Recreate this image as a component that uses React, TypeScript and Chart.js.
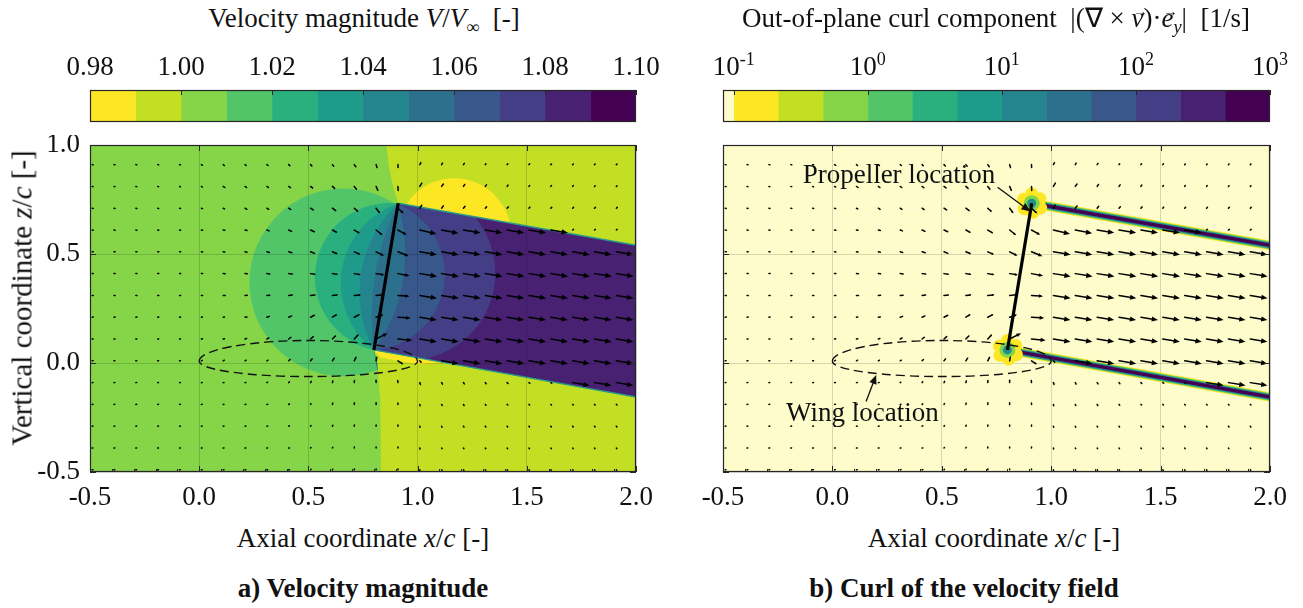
import React, { useEffect, useRef } from 'react';
import { Chart, registerables } from 'chart.js';

Chart.register(...registerables);

const SERIF = '"Liberation Serif", "Times New Roman", Times, serif';
const INK = '#262626';
const TEXT = '#111111';
const TEXT_PX = 27;

// Colour levels shared by both colour bars (viridis, low -> high)
const LEVEL_COLORS = ['#fde725', '#c2df23', '#86d549', '#52c569', '#2ab07f', '#1e9b8a', '#25858e', '#2d708e', '#38588c', '#433e85', '#482173', '#440154'];
const CURL_UNDER_COLOR = '#fdfcca';

// Colour bar a: V/V∞ levels
const VEL_EDGES = [0.98, 0.99, 1.0, 1.01, 1.02, 1.03, 1.04, 1.05, 1.06, 1.07, 1.08, 1.09, 1.1];
const VEL_TICKS = [0.98, 1.0, 1.02, 1.04, 1.06, 1.08, 1.1];
const VEL_TICK_TEXT = ['0.98', '1.00', '1.02', '1.04', '1.06', '1.08', '1.10'];

// Colour bar b: curl magnitude levels [1/s] (first band is below range)
const CURL_EDGES = [0.0832, 0.1, 0.215, 0.464, 1, 2.15, 4.64, 10, 21.5, 46.4, 100, 215, 464, 1000];
const CURL_TICKS = [0.1, 1, 10, 100, 1000];
const CURL_TICK_EXP = ['-1', '0', '1', '2', '3'];

// Plot axes
const X_TICKS = [-0.5, 0, 0.5, 1, 1.5, 2];
const X_MINOR = [-0.4, -0.3, -0.2, -0.1, 0.1, 0.2, 0.3, 0.4, 0.6, 0.7, 0.8, 0.9, 1.1, 1.2, 1.3, 1.4, 1.6, 1.7, 1.8, 1.9];
const Z_TICKS = [-0.5, 0, 0.5, 1];

// Propeller disk (lower tip, upper tip)
const PROP_X = [0.8, 0.911];
const PROP_Z = [0.06, 0.733];

// Slipstream edges, from the tips downstream
const SLIP_UPPER_X = [0.911, 2.1];
const SLIP_UPPER_Z = [0.733, 0.522];
const SLIP_LOWER_X = [0.8, 2.1];
const SLIP_LOWER_Z = [0.06, -0.174];

// Region upstream of the V/V∞ = 1.00 iso-line and the disk
const UPSTREAM_X = [-0.6, 0.853, 0.857, 0.87, 0.89, 0.911, 0.8, 0.815, 0.829, 0.833, -0.6];
const UPSTREAM_Z = [1.1, 1.1, 1.0, 0.89, 0.8, 0.733, 0.06, 0.0, -0.17, -0.6, -0.6];

// Iso-velocity discs ahead of the disk (level index, centre, radius)
const UP_LEVEL = [3, 4, 5, 6, 7];
const UP_CX = [0.66, 0.87, 1.032, 1.293, 1.97];
const UP_CZ = [0.37, 0.393, 0.366, 0.323, 0.212];
const UP_R = [0.43, 0.34, 0.384, 0.559, 1.18];

// Iso-velocity discs inside the slipstream
const DOWN_LEVEL = [9, 8, 7];
const DOWN_CX = [0.956, 0.775, 0.184];
const DOWN_CZ = [0.413, 0.408, 0.505];
const DOWN_R = [0.4, 0.349, 0.76];

// Low-speed pockets next to the slipstream
const LOW_CX = [1.168];
const LOW_CZ = [0.586];
const LOW_R = [0.261];
const LOW_SLIVER_X = [0.8, 1.12, 1.0, 0.83];
const LOW_SLIVER_Z = [0.06, 0.002, -0.006, 0.025];

// Wing section outline
const WING_X = [0.0, 1.0];
const WING_Z = [0.008];
const WING_THICK_UP = [0.095];
const WING_THICK_DOWN = [0.07];

// Tip vortex blobs in the curl field (petal offsets from each tip)
const PETAL_DX = [0.0, -0.037, -0.034, 0.006, 0.041, 0.038];
const PETAL_DZ = [0.043, 0.018, -0.025, -0.042, -0.022, 0.02];

// Annotations in panel b
const NOTE_TEXT = ['Propeller location', 'Wing location'];
const NOTE_X = [-0.136, -0.212];
const NOTE_Z = [0.824, -0.268];
const NOTE_FROM_X = [0.755, 0.154];
const NOTE_FROM_Z = [0.806, -0.177];
const NOTE_TO_X = [0.905, 0.2];
const NOTE_TO_Z = [0.695, -0.055];

// Quiver grid and perturbation velocity (units of 0.01 c per arrow)
const QX = [-0.49, -0.39, -0.29, -0.19, -0.09, 0.01, 0.11, 0.21, 0.31, 0.41, 0.51, 0.61, 0.71, 0.81, 0.91, 1.01, 1.11, 1.21, 1.31, 1.41, 1.51, 1.61, 1.71, 1.81, 1.91];
const QZ = [0.91, 0.81, 0.71, 0.61, 0.51, 0.41, 0.31, 0.21, 0.11, 0.01, -0.09, -0.19, -0.29, -0.39, -0.49];
const QU = [
  [0.4, 0.4, 0.4, 0.4, 0.4, 0.5, 0.5, 0.5, 0.5, 0.5, 0.6, 0.6, 0.7, 0.4, 0.05, 0.5, 0.4, 0.4, 0.3, 0.3, 0.3, 0.3, 0.3, 0.3, 0.3],
  [0.4, 0.4, 0.4, 0.4, 0.4, 0.5, 0.7, 0.7, 0.7, 0.8, 0.9, 1.0, 1.0, 0.8, 0.1, 0.9, 0.8, 0.6, 0.5, 0.4, 0.3, 0.3, 0.3, 0.3, 0.3],
  [0.45, 0.45, 0.45, 0.45, 0.45, 0.5, 0.6, 0.8, 0.8, 0.9, 1.2, 1.5, 1.8, 1.7, 2.6, 0.9, 0.8, 0.7, 0.6, 0.5, 0.4, 0.4, 0.4, 0.4, 0.4],
  [0.5, 0.5, 0.5, 0.5, 0.5, 0.6, 0.7, 0.9, 1.0, 1.3, 1.7, 2.2, 2.5, 3.0, 4.0, 7.6, 7.7, 7.8, 7.8, 7.8, 7.8, 7.8, 0.4, 0.4, 0.4],
  [0.5, 0.5, 0.5, 0.5, 0.5, 0.6, 0.7, 0.9, 1.1, 1.4, 1.8, 2.3, 2.8, 3.6, 5.0, 7.8, 7.8, 7.8, 7.8, 7.8, 7.8, 7.8, 7.8, 7.8, 7.8],
  [0.5, 0.5, 0.5, 0.5, 0.5, 0.6, 0.9, 1.0, 1.3, 1.6, 1.9, 2.4, 3.0, 3.8, 5.3, 7.9, 7.9, 7.9, 7.9, 7.9, 7.9, 7.9, 7.9, 7.9, 7.9],
  [0.5, 0.5, 0.5, 0.5, 0.5, 0.6, 0.9, 1.0, 1.3, 1.6, 2.0, 2.5, 3.1, 3.9, 5.3, 7.9, 7.9, 7.9, 7.9, 7.9, 7.9, 7.9, 7.9, 7.9, 7.9],
  [0.5, 0.5, 0.5, 0.5, 0.5, 0.5, 0.6, 0.9, 1.1, 1.3, 1.7, 2.1, 2.6, 3.4, 5.8, 7.8, 7.8, 7.8, 7.8, 7.8, 7.8, 7.8, 7.8, 7.8, 7.8],
  [0.45, 0.45, 0.45, 0.45, 0.45, 0.5, 0.6, 0.7, 0.9, 1.0, 1.2, 1.6, 2.0, 5.2, 6.5, 7.8, 7.8, 7.8, 7.8, 7.8, 7.8, 7.8, 7.8, 7.8, 7.8],
  [0.4, 0.4, 0.4, 0.4, 0.4, 0.4, 0.5, 0.5, 0.5, 0.6, 0.7, 0.8, 0.8, 0.3, 2.4, 0.6, 7.8, 7.8, 7.8, 7.8, 7.8, 7.8, 7.8, 7.8, 7.8],
  [0.35, 0.35, 0.35, 0.35, 0.35, 0.35, 0.35, 0.35, 0.3, 0.3, 0.3, 0.2, 0.1, 0.0, -0.1, 0.3, 0.4, 0.4, 0.4, 0.4, 0.4, 0.4, 7.8, 7.8, 7.8],
  [0.35, 0.35, 0.35, 0.35, 0.35, 0.35, 0.35, 0.35, 0.35, 0.3, 0.2, 0.15, 0.05, 0.0, 0.0, 0.15, 0.25, 0.3, 0.3, 0.3, 0.3, 0.3, 0.3, 0.3, 0.3],
  [0.35, 0.35, 0.35, 0.35, 0.35, 0.35, 0.35, 0.35, 0.35, 0.3, 0.2, 0.15, 0.05, 0.0, 0.0, 0.1, 0.2, 0.25, 0.25, 0.25, 0.25, 0.25, 0.25, 0.25, 0.25],
  [0.35, 0.35, 0.35, 0.35, 0.35, 0.35, 0.35, 0.35, 0.35, 0.35, 0.2, 0.15, 0.05, 0.0, 0.0, 0.1, 0.2, 0.2, 0.2, 0.2, 0.2, 0.2, 0.2, 0.2, 0.2],
  [0.35, 0.35, 0.35, 0.35, 0.35, 0.35, 0.35, 0.35, 0.35, 0.35, 0.2, 0.1, 0.05, 0.0, 0.0, 0.1, 0.2, 0.2, 0.2, 0.2, 0.2, 0.2, 0.2, 0.2, 0.2],
];
const QW = [
  [-0.1, -0.1, -0.1, -0.1, -0.1, -0.3, -0.4, -0.4, -0.4, -0.5, -0.6, -0.7, -1.0, -1.3, -1.3, 0.9, 0.7, 0.6, 0.4, 0.4, 0.4, 0.3, 0.3, 0.3, 0.3],
  [-0.1, -0.1, -0.1, -0.1, -0.2, -0.3, -0.5, -0.5, -0.5, -0.6, -0.7, -0.9, -1.3, -1.8, -1.9, 1.5, 1.1, 0.9, 0.7, 0.6, 0.4, 0.4, 0.4, 0.3, 0.3],
  [-0.1, -0.1, -0.1, -0.1, -0.1, -0.2, -0.3, -0.5, -0.5, -0.6, -0.8, -1.1, -1.6, -2.3, -2.4, 1.4, 1.1, 0.9, 0.7, 0.6, 0.5, 0.4, 0.4, 0.4, 0.4],
  [-0.05, -0.05, -0.05, -0.05, -0.05, -0.1, -0.1, -0.2, -0.4, -0.6, -0.8, -1.2, -1.5, -2.4, -2.2, -1.8, -1.5, -1.3, -1.3, -1.3, -1.3, -1.3, 0.3, 0.3, 0.3],
  [0, 0, 0, 0, 0, -0.05, -0.1, -0.15, -0.3, -0.45, -0.7, -0.9, -1.2, -1.8, -2.0, -1.3, -1.3, -1.3, -1.3, -1.3, -1.3, -1.3, -1.3, -1.3, -1.3],
  [0, 0, 0, 0, 0, 0, -0.05, -0.1, -0.15, -0.2, -0.3, -0.4, -0.5, -0.6, -1.0, -1.3, -1.3, -1.3, -1.3, -1.3, -1.3, -1.3, -1.3, -1.3, -1.3],
  [0, 0, 0, 0, 0, 0.02, 0, 0.05, 0.1, 0.15, 0.2, 0.3, 0.3, 0.4, -0.4, -1.3, -1.3, -1.3, -1.3, -1.3, -1.3, -1.3, -1.3, -1.3, -1.3],
  [0.05, 0.05, 0.05, 0.05, 0.05, 0.05, 0.1, 0.15, 0.4, 0.6, 0.9, 1.3, 1.4, 1.2, -0.4, -1.3, -1.3, -1.3, -1.3, -1.3, -1.3, -1.3, -1.3, -1.3, -1.3],
  [0.05, 0.05, 0.05, 0.05, 0.05, 0.1, 0.15, 0.2, 0.5, 0.8, 1.1, 1.6, 2.2, 2.6, -0.6, -1.3, -1.3, -1.3, -1.3, -1.3, -1.3, -1.3, -1.3, -1.3, -1.3],
  [0.05, 0.05, 0.05, 0.05, 0.05, 0.2, 0.3, 0.3, 0.3, 0.6, 0.9, 1.2, 1.6, 1.6, -1.6, -0.6, -1.3, -1.3, -1.3, -1.3, -1.3, -1.3, -1.3, -1.3, -1.3],
  [0.05, 0.05, 0.05, 0.05, 0.05, 0.05, 0.05, 0.05, 0.2, 0.4, 0.6, 0.8, 1.0, 1.1, 1.0, -0.8, -0.7, -0.6, -0.5, -0.4, -0.3, -0.3, -1.3, -1.3, -1.3],
  [0.05, 0.05, 0.05, 0.05, 0.05, 0.05, 0.05, 0.05, 0.05, 0.25, 0.4, 0.6, 0.8, 0.8, 0.7, -0.6, -0.5, -0.5, -0.4, -0.3, -0.3, -0.3, -0.3, -0.3, -0.3],
  [0.05, 0.05, 0.05, 0.05, 0.05, 0.05, 0.05, 0.05, 0.05, 0.2, 0.3, 0.45, 0.6, 0.6, 0.6, -0.5, -0.45, -0.35, -0.35, -0.35, -0.35, -0.35, -0.35, -0.35, -0.35],
  [0.05, 0.05, 0.05, 0.05, 0.05, 0.05, 0.05, 0.05, 0.05, 0.05, 0.25, 0.35, 0.5, 0.5, 0.5, -0.45, -0.3, -0.3, -0.3, -0.3, -0.3, -0.3, -0.3, -0.3, -0.3],
  [0.05, 0.05, 0.05, 0.05, 0.05, 0.05, 0.05, 0.05, 0.05, 0.05, 0.2, 0.3, 0.4, 0.4, 0.4, -0.4, -0.25, -0.25, -0.25, -0.25, -0.25, -0.25, -0.25, -0.25, -0.25],
];
const ARROW_UNIT = 0.01;

// ---------- drawing helpers (all positions go through the chart scales) ----------
const toPx = (chart: any, x: number, z: number): [number, number] => [
  chart.scales.x.getPixelForValue(x),
  chart.scales.y.getPixelForValue(z),
];
const unitPx = (chart: any) => chart.scales.x.getPixelForValue(1) - chart.scales.x.getPixelForValue(0);

function tracePolygon(ctx: CanvasRenderingContext2D, chart: any, xs: number[], zs: number[]) {
  ctx.beginPath();
  xs.forEach((x, i) => {
    const [px, py] = toPx(chart, x, zs[i]);
    if (i === 0) ctx.moveTo(px, py);
    else ctx.lineTo(px, py);
  });
  ctx.closePath();
}

function traceDisc(ctx: CanvasRenderingContext2D, chart: any, cx: number, cz: number, r: number) {
  const [px, py] = toPx(chart, cx, cz);
  ctx.beginPath();
  ctx.arc(px, py, r * unitPx(chart), 0, Math.PI * 2);
}

const SLIP_X = [SLIP_UPPER_X[0], SLIP_UPPER_X[1], SLIP_LOWER_X[1], SLIP_LOWER_X[0]];
const SLIP_Z = [SLIP_UPPER_Z[0], SLIP_UPPER_Z[1], SLIP_LOWER_Z[1], SLIP_LOWER_Z[0]];

function arrow(ctx: CanvasRenderingContext2D, x0: number, y0: number, x1: number, y1: number, maxHead = 7) {
  const dx = x1 - x0;
  const dy = y1 - y0;
  const len = Math.hypot(dx, dy);
  ctx.beginPath();
  ctx.moveTo(x0, y0);
  if (len < 4.5) {
    ctx.lineTo(x1 + (len < 0.4 ? 0.5 : 0), y1);
    ctx.stroke();
    return;
  }
  const hl = Math.min(0.36 * len, maxHead);
  const hw = Math.min(0.15 * len, maxHead * 0.42);
  const ux = dx / len;
  const uy = dy / len;
  const bx = x1 - ux * hl;
  const by = y1 - uy * hl;
  ctx.lineTo(bx + ux * 1, by + uy * 1);
  ctx.stroke();
  ctx.beginPath();
  ctx.moveTo(x1, y1);
  ctx.lineTo(bx - uy * hw, by + ux * hw);
  ctx.lineTo(bx + uy * hw, by - ux * hw);
  ctx.closePath();
  ctx.fill();
}

// ---------- plugins ----------
const velocityFieldPlugin = {
  id: 'velocityField',
  beforeDraw(chart: any) {
    const { ctx, chartArea: a } = chart;
    ctx.save();
    ctx.beginPath();
    ctx.rect(a.left, a.top, a.right - a.left, a.bottom - a.top);
    ctx.clip();
    ctx.fillStyle = LEVEL_COLORS[1];
    ctx.fillRect(a.left, a.top, a.right - a.left, a.bottom - a.top);

    tracePolygon(ctx, chart, UPSTREAM_X, UPSTREAM_Z);
    ctx.fillStyle = LEVEL_COLORS[2];
    ctx.fill();
    ctx.save();
    tracePolygon(ctx, chart, UPSTREAM_X, UPSTREAM_Z);
    ctx.clip();
    UP_LEVEL.forEach((lv, i) => {
      traceDisc(ctx, chart, UP_CX[i], UP_CZ[i], UP_R[i]);
      ctx.fillStyle = LEVEL_COLORS[lv];
      ctx.fill();
    });
    ctx.restore();

    LOW_CX.forEach((cx, i) => {
      traceDisc(ctx, chart, cx, LOW_CZ[i], LOW_R[i]);
      ctx.fillStyle = LEVEL_COLORS[0];
      ctx.fill();
    });
    tracePolygon(ctx, chart, LOW_SLIVER_X, LOW_SLIVER_Z);
    ctx.fillStyle = LEVEL_COLORS[0];
    ctx.fill();

    tracePolygon(ctx, chart, SLIP_X, SLIP_Z);
    ctx.fillStyle = LEVEL_COLORS[10];
    ctx.fill();
    ctx.save();
    tracePolygon(ctx, chart, SLIP_X, SLIP_Z);
    ctx.clip();
    DOWN_LEVEL.forEach((lv, i) => {
      traceDisc(ctx, chart, DOWN_CX[i], DOWN_CZ[i], DOWN_R[i]);
      ctx.fillStyle = LEVEL_COLORS[lv];
      ctx.fill();
    });
    ctx.restore();
    ctx.restore();
  },
};

const curlFieldPlugin = {
  id: 'curlField',
  beforeDraw(chart: any) {
    const { ctx, chartArea: a } = chart;
    ctx.save();
    ctx.fillStyle = CURL_UNDER_COLOR;
    ctx.fillRect(a.left, a.top, a.right - a.left, a.bottom - a.top);
    ctx.restore();
  },
};

function overlayPlugin(withNotes: boolean) {
  return {
    id: 'overlay',
    afterDatasetsDraw(chart: any) {
      const { ctx, chartArea: a } = chart;
      ctx.save();
      ctx.beginPath();
      ctx.rect(a.left, a.top, a.right - a.left, a.bottom - a.top);
      ctx.clip();

      // quiver
      ctx.strokeStyle = '#000';
      ctx.fillStyle = '#000';
      ctx.lineWidth = 1.5;
      ctx.lineCap = 'round';
      QZ.forEach((z, r) => {
        QX.forEach((x, c) => {
          const [x0, y0] = toPx(chart, x, z);
          const [x1, y1] = toPx(chart, x + QU[r][c] * ARROW_UNIT, z + QW[r][c] * ARROW_UNIT);
          arrow(ctx, x0, y0, x1, y1);
        });
      });

      // wing outline
      const [wx0, wy] = toPx(chart, WING_X[0], WING_Z[0]);
      const [wx1] = toPx(chart, WING_X[1], WING_Z[0]);
      const k = unitPx(chart);
      const cx = (wx0 + wx1) / 2;
      const ra = (wx1 - wx0) / 2;
      ctx.lineCap = 'butt';
      ctx.lineWidth = 1.4;
      ctx.strokeStyle = '#111';
      ctx.setLineDash([9, 5]);
      ctx.beginPath();
      ctx.ellipse(cx, wy, ra, WING_THICK_UP[0] * k, 0, Math.PI, Math.PI * 2);
      ctx.ellipse(cx, wy, ra, WING_THICK_DOWN[0] * k, 0, 0, Math.PI);
      ctx.stroke();
      ctx.setLineDash([]);

      if (withNotes) {
        ctx.fillStyle = TEXT;
        ctx.strokeStyle = TEXT;
        ctx.font = `${TEXT_PX}px ${SERIF}`;
        ctx.textAlign = 'left';
        ctx.textBaseline = 'alphabetic';
        NOTE_TEXT.forEach((t, i) => {
          const [tx, ty] = toPx(chart, NOTE_X[i], NOTE_Z[i]);
          ctx.fillText(t, tx, ty);
          const [fx, fy] = toPx(chart, NOTE_FROM_X[i], NOTE_FROM_Z[i]);
          const [hx, hy] = toPx(chart, NOTE_TO_X[i], NOTE_TO_Z[i]);
          ctx.lineWidth = 1.3;
          arrow(ctx, fx, fy, hx, hy, 9);
        });
      }
      ctx.restore();
    },
  };
}

const plotFramePlugin = {
  id: 'plotFrame',
  afterDraw(chart: any) {
    const { ctx, chartArea: a } = chart;
    ctx.save();
    ctx.strokeStyle = INK;
    ctx.lineWidth = 1.2;
    ctx.strokeRect(a.left + 0.5, a.top + 0.5, a.right - a.left - 1, a.bottom - a.top - 1);
    ctx.lineWidth = 1;
    ctx.beginPath();
    X_TICKS.forEach((v) => {
      const x = Math.round(chart.scales.x.getPixelForValue(v)) + 0.5;
      ctx.moveTo(x, a.bottom);
      ctx.lineTo(x, a.bottom - 6);
      ctx.moveTo(x, a.top);
      ctx.lineTo(x, a.top + 6);
    });
    X_MINOR.forEach((v) => {
      const x = Math.round(chart.scales.x.getPixelForValue(v)) + 0.5;
      ctx.moveTo(x, a.bottom);
      ctx.lineTo(x, a.bottom - 3);
    });
    Z_TICKS.forEach((v) => {
      const y = Math.round(chart.scales.y.getPixelForValue(v)) + 0.5;
      ctx.moveTo(a.left, y);
      ctx.lineTo(a.left + 6, y);
      ctx.moveTo(a.right, y);
      ctx.lineTo(a.right - 6, y);
    });
    ctx.stroke();
    ctx.restore();
  },
};

// Colour bar outline, inward ticks and tick labels (plain or 10^n)
function colorbarFramePlugin(ticks: number[], texts: string[] | null, exps: string[] | null) {
  return {
    id: 'colorbarFrame',
    afterDraw(chart: any) {
      const { ctx, chartArea: a } = chart;
      const sx = chart.scales.x;
      ctx.save();
      ctx.strokeStyle = INK;
      ctx.lineWidth = 1.2;
      ctx.strokeRect(a.left + 0.5, a.top + 0.5, a.right - a.left - 1, a.bottom - a.top - 1);
      ctx.lineWidth = 1;
      ctx.beginPath();
      ticks.forEach((v) => {
        const x = Math.round(sx.getPixelForValue(v)) + 0.5;
        ctx.moveTo(x, a.top);
        ctx.lineTo(x, a.top + 5);
      });
      ctx.stroke();
      ctx.fillStyle = TEXT;
      ctx.textBaseline = 'alphabetic';
      const base = a.top - 15;
      const bigFont = `${TEXT_PX}px ${SERIF}`;
      const smallFont = `${Math.round(TEXT_PX * 0.66)}px ${SERIF}`;
      ticks.forEach((v, i) => {
        const x = sx.getPixelForValue(v);
        if (texts) {
          ctx.font = bigFont;
          ctx.textAlign = 'center';
          ctx.fillText(texts[i], x, base);
        } else if (exps) {
          ctx.font = bigFont;
          const wb = ctx.measureText('10').width;
          ctx.font = smallFont;
          const we = ctx.measureText(exps[i]).width;
          const x0 = x - (wb + we) / 2;
          ctx.textAlign = 'left';
          ctx.font = bigFont;
          ctx.fillText('10', x0, base);
          ctx.font = smallFont;
          ctx.fillText(exps[i], x0 + wb, base - 10);
        }
      });
      ctx.restore();
    },
  };
}

// ---------- chart configs ----------
const tickFont = { family: SERIF, size: TEXT_PX };

function colorbarConfig(kind: 'a' | 'b'): any {
  const edges = kind === 'a' ? VEL_EDGES : CURL_EDGES;
  const colors = kind === 'a' ? LEVEL_COLORS : [CURL_UNDER_COLOR, ...LEVEL_COLORS];
  const ticks = kind === 'a' ? VEL_TICKS : CURL_TICKS;
  const datasets = colors.map((c, i) => ({
    data: [[edges[i], edges[i + 1]]],
    backgroundColor: c,
    borderWidth: 0,
    barPercentage: 1,
    categoryPercentage: 1,
    grouped: false,
  }));
  return {
    type: 'bar',
    data: { labels: [''], datasets },
    options: {
      indexAxis: 'y',
      animation: false,
      responsive: false,
      events: [],
      layout: { padding: kind === 'a' ? { left: 90, right: 29, top: 0, bottom: 8 } : { left: 63, right: 30, top: 0, bottom: 8 } },
      plugins: { legend: { display: false }, tooltip: { enabled: false } },
      scales: {
        x: {
          type: kind === 'a' ? 'linear' : 'logarithmic',
          position: 'top',
          min: edges[0],
          max: edges[edges.length - 1],
          grid: { display: false },
          border: { display: false },
          afterBuildTicks: (s: any) => {
            s.ticks = ticks.map((v) => ({ value: v }));
          },
          afterFit: (s: any) => {
            s.height = 50;
            s.paddingLeft = 0;
            s.paddingRight = 0;
          },
          ticks: { display: false },
        },
        y: { type: 'category', display: false },
      },
    },
    plugins: [colorbarFramePlugin(ticks, kind === 'a' ? VEL_TICK_TEXT : null, kind === 'a' ? null : CURL_TICK_EXP)],
  };
}

const pts = (xs: number[], zs: number[]) => xs.map((x, i) => ({ x, y: zs[i] }));
const lineSet = (data: any[], color: string, width: number, order: number) => ({
  data,
  showLine: true,
  borderColor: color,
  borderWidth: width,
  pointRadius: 0,
  fill: false,
  tension: 0,
  order,
});

function fieldConfig(kind: 'a' | 'b'): any {
  const upper = pts(SLIP_UPPER_X, SLIP_UPPER_Z);
  const lower = pts(SLIP_LOWER_X, SLIP_LOWER_Z);
  const prop = lineSet(pts(PROP_X, PROP_Z), '#000', 3.2, 1);
  let datasets: any[];
  if (kind === 'a') {
    datasets = [lineSet(upper, '#2a9a8a', 1.4, 5), lineSet(lower, '#2a9a8a', 1.4, 5), prop];
  } else {
    const shearWidths = [9.5, 7.5, 5.5, 3.4];
    const shearColors = [LEVEL_COLORS[0], LEVEL_COLORS[3], LEVEL_COLORS[6], LEVEL_COLORS[11]];
    datasets = [];
    shearWidths.forEach((w, i) => {
      datasets.push(lineSet(upper, shearColors[i], w, 20 - i));
      datasets.push(lineSet(lower, shearColors[i], w, 20 - i));
    });
    const petals: any[] = [];
    PROP_X.forEach((tx, t) => {
      PETAL_DX.forEach((dx, p) => petals.push({ x: tx + dx, y: PROP_Z[t] + PETAL_DZ[p] }));
    });
    const tips = pts(PROP_X, PROP_Z);
    datasets.push({ data: petals, pointRadius: 6.5, pointBackgroundColor: LEVEL_COLORS[0], pointBorderWidth: 0, order: 12 });
    datasets.push({ data: tips, pointRadius: 8, pointBackgroundColor: LEVEL_COLORS[2], pointBorderWidth: 0, order: 11 });
    datasets.push({ data: tips, pointRadius: 4.5, pointBackgroundColor: '#21918c', pointBorderWidth: 0, order: 10 });
    datasets.push(prop);
  }
  const padRight = kind === 'a' ? 29 : 30;
  return {
    type: 'scatter',
    data: { datasets },
    options: {
      animation: false,
      responsive: false,
      events: [],
      layout: { padding: { left: 0, right: padRight, top: 10, bottom: 0 } },
      plugins: { legend: { display: false }, tooltip: { enabled: false } },
      scales: {
        x: {
          type: 'linear',
          min: -0.5,
          max: 2,
          afterBuildTicks: (s: any) => {
            s.ticks = X_TICKS.map((v) => ({ value: v }));
          },
          afterFit: (s: any) => {
            s.height = 43;
            s.paddingLeft = 0;
            s.paddingRight = 0;
          },
          grid: { color: 'rgba(0,0,0,0.15)', lineWidth: 1, drawTicks: false },
          border: { display: false },
          ticks: { font: tickFont, color: TEXT, padding: 10, autoSkip: false, maxRotation: 0, callback: (v: any) => Number(v).toFixed(1) },
        },
        y: {
          type: 'linear',
          min: -0.5,
          max: 1,
          afterBuildTicks: (s: any) => {
            s.ticks = Z_TICKS.map((v) => ({ value: v }));
          },
          afterFit: (s: any) => {
            s.width = kind === 'a' ? 90 : 63;
            s.paddingTop = 0;
            s.paddingBottom = 0;
          },
          grid: { color: 'rgba(0,0,0,0.15)', lineWidth: 1, drawTicks: false },
          border: { display: false },
          ticks: { display: kind === 'a', font: tickFont, color: TEXT, padding: 10, callback: (v: any) => Number(v).toFixed(1) },
        },
      },
    },
    plugins: [kind === 'a' ? velocityFieldPlugin : curlFieldPlugin, overlayPlugin(kind === 'b'), plotFramePlugin],
  };
}

// ---------- components ----------
function ChartCanvas({ make, left, top, width, height }: { make: () => any; left: number; top: number; width: number; height: number }) {
  const ref = useRef<HTMLCanvasElement>(null);
  useEffect(() => {
    const chart = new Chart(ref.current as HTMLCanvasElement, make());
    return () => chart.destroy();
  }, []);
  return <canvas ref={ref} width={width} height={height} style={{ position: 'absolute', left, top, width, height }} />;
}

function Txt({ x, y, bold, rotate, size, children }: { x: number; y: number; bold?: boolean; rotate?: boolean; size?: number; children: any }) {
  const fs = size ?? TEXT_PX;
  return (
    <div
      style={{
        position: 'absolute',
        left: x,
        top: y,
        transform: `translate(-50%, -50%)${rotate ? ' rotate(-90deg)' : ''}`,
        fontSize: fs,
        lineHeight: `${fs}px`,
        whiteSpace: 'nowrap',
        fontWeight: bold ? 700 : 400,
      }}
    >
      {children}
    </div>
  );
}

function Vec({ ch }: { ch: string }) {
  return (
    <span style={{ position: 'relative', display: 'inline-block' }}>
      <i>{ch}</i>
      <span style={{ position: 'absolute', left: '0.1em', top: '-0.5em', fontSize: '0.55em', fontStyle: 'normal' }}>→</span>
    </span>
  );
}

function Sub({ children }: { children: any }) {
  return <span style={{ fontSize: '0.68em', position: 'relative', top: '0.32em' }}>{children}</span>;
}

export default function App() {
  return (
    <div
      style={{
        position: 'absolute',
        left: 0,
        top: 0,
        width: 1303,
        height: 608,
        background: '#ffffff',
        fontFamily: SERIF,
        color: TEXT,
        overflow: 'hidden',
      }}
    >
      <ChartCanvas make={() => colorbarConfig('a')} left={0} top={40} width={665} height={90} />
      <ChartCanvas make={() => fieldConfig('a')} left={0} top={135} width={665} height={380} />
      <ChartCanvas make={() => colorbarConfig('b')} left={660} top={40} width={640} height={90} />
      <ChartCanvas make={() => fieldConfig('b')} left={660} top={135} width={640} height={380} />

      <Txt x={364} y={20}>
        Velocity magnitude <i>V</i>/<i>V</i>
        <Sub>∞</Sub>&nbsp;&nbsp;[-]
      </Txt>
      <Txt x={996} y={20}>
        Out-of-plane curl component&nbsp;&nbsp;|(∇&nbsp;×&nbsp;<Vec ch="v" />)·<Vec ch="e" />
        <Sub>
          <i>y</i>
        </Sub>
        |&nbsp;&nbsp;[1/s]
      </Txt>

      <Txt x={22} y={298} rotate size={29}>
        Vertical coordinate <i>z</i>/<i>c</i> [-]
      </Txt>
      <Txt x={363} y={538}>
        Axial coordinate <i>x</i>/<i>c</i> [-]
      </Txt>
      <Txt x={994} y={538}>
        Axial coordinate <i>x</i>/<i>c</i> [-]
      </Txt>
      <Txt x={363} y={588} bold>
        a) Velocity magnitude
      </Txt>
      <Txt x={964} y={588} bold>
        b) Curl of the velocity field
      </Txt>
    </div>
  );
}
